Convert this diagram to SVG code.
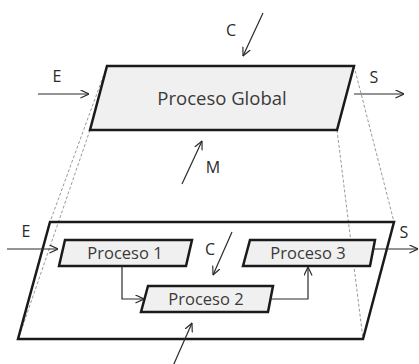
<svg xmlns="http://www.w3.org/2000/svg" width="419" height="364" viewBox="0 0 419 364">
<style>
.box{fill:#f0f0f0;stroke:#1a1a1a;stroke-width:2.5;stroke-linejoin:miter}
.frame{fill:none;stroke:#1a1a1a;stroke-width:2.5}
.dash{fill:none;stroke:#9a9a9a;stroke-width:1;stroke-dasharray:3 2}
.arr{fill:none;stroke:#2a2a2a;stroke-width:1.2;marker-end:url(#ah)}
.t{font-family:"Open Sans","Liberation Sans",sans-serif;fill:#3a3a3a;text-anchor:middle}
.big{font-size:18.5px}
.mid{font-size:16.5px}
.lbl{font-size:16px;fill:#2a2a2a}
</style>
<defs>
<marker id="ah" viewBox="0 0 10 10" refX="9.5" refY="5" markerWidth="9" markerHeight="9" markerUnits="userSpaceOnUse" orient="auto">
<path d="M0,0.5 L9.5,5 L0,9.5" fill="none" stroke="#2a2a2a" stroke-width="1.3"/>
</marker>
</defs>
<g id="guides">
<line class="dash" x1="107" y1="66" x2="50" y2="222"/>
<line class="dash" x1="90" y1="130" x2="18" y2="340"/>
<line class="dash" x1="354" y1="66" x2="394" y2="222"/>
<line class="dash" x1="337" y1="130" x2="363" y2="339"/>
</g>
<g id="global">
<polygon class="box" points="107,66 354,66 337,130 90,130"/>
<text class="t big" x="222" y="105">Proceso Global</text>
</g>
<g id="detalle">
<polygon class="frame" points="50,222 394,222 363,339 18,339"/>
</g>
<g id="p1">
<polygon class="box" points="65,240 192,240 186,266 59,266"/>
<text class="t mid" x="125" y="259">Proceso 1</text>
</g>
<g id="p2">
<polygon class="box" points="148,286 273,286 268,312 141,312"/>
<text class="t mid" x="206" y="305">Proceso 2</text>
</g>
<g id="p3">
<polygon class="box" points="250,240 375,240 370,266 243,266"/>
<text class="t mid" x="308" y="259">Proceso 3</text>
</g>
<g id="connectors">
<line class="arr" x1="38" y1="94" x2="89" y2="94"/>
<line class="arr" x1="354" y1="94" x2="404" y2="94"/>
<line class="arr" x1="263" y1="13" x2="243" y2="56"/>
<line class="arr" x1="182" y1="184" x2="202" y2="141"/>
<line class="arr" x1="7" y1="249" x2="58" y2="249"/>
<line class="arr" x1="373" y1="249" x2="418" y2="249"/>
<line class="arr" x1="232" y1="232" x2="213" y2="275"/>
<line class="arr" x1="173" y1="366" x2="192" y2="323"/>
<polyline class="arr" points="122,266 122,299 144,299"/>
<polyline class="arr" points="270,299 308,299 308,267"/>
</g>
<g id="labels">
<text class="t lbl" x="231" y="36">C</text>
<text class="t lbl" x="57" y="82">E</text>
<text class="t lbl" x="374" y="83">S</text>
<text class="t lbl" x="213" y="173">M</text>
<text class="t lbl" x="26" y="237">E</text>
<text class="t lbl" x="404" y="238">S</text>
<text class="t lbl" x="210" y="255">C</text>
</g>
</svg>
